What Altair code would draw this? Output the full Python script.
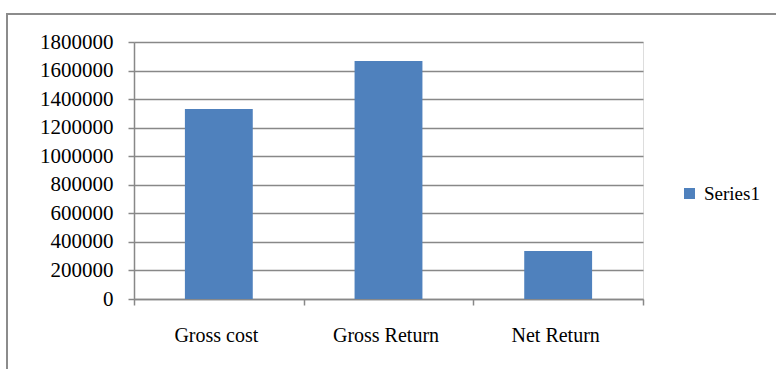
import altair as alt
import pandas as pd

categories = ["Gross cost", "Gross Return", "Net Return"]
values = [1330000, 1667000, 337000]
series_name = ["Series1", "Series1", "Series1"]
y_ticks = [0, 200000, 400000, 600000, 800000, 1000000, 1200000, 1400000, 1600000, 1800000]

df = pd.DataFrame({"category": categories, "value": values, "series": series_name})

FONT = "'Times New Roman', 'Liberation Serif', serif"
GRID = "#888888"

bars = alt.Chart(df).mark_bar(color="#4F81BD", width=alt.RelativeBandSize(0.4)).encode(
    x=alt.X(
        "category:N",
        sort=categories,
        scale=alt.Scale(paddingInner=0, paddingOuter=0),
        axis=alt.Axis(
            title=None,
            labelAngle=0,
            labelFont=FONT,
            labelFontSize=20,
            labelColor="black",
            labelPadding=20,
            labelOffset=-3,
            ticks=True,
            tickBand="extent",
            tickExtra=True,
            tickSize=6,
            tickColor=GRID,
            tickWidth=1.5,
            domainColor=GRID,
            domainWidth=1.5,
            grid=False,
        ),
    ),
    y=alt.Y(
        "value:Q",
        scale=alt.Scale(domain=[0, 1800000], nice=False),
        axis=alt.Axis(
            title=None,
            values=y_ticks,
            format="d",
            labelFont=FONT,
            labelFontSize=21,
            labelColor="black",
            labelPadding=15,
            tickSize=6,
            tickColor=GRID,
            tickWidth=1.5,
            domainColor=GRID,
            domainWidth=1.5,
            grid=True,
            gridColor=GRID,
            gridWidth=1.5,
        ),
    ),
    color=alt.Color(
        "series:N",
        scale=alt.Scale(range=["#4F81BD"]),
        legend=alt.Legend(
            title=None,
            orient="none",
            legendX=546,
            legendY=142,
            symbolType="square",
            symbolSize=121,
            symbolStrokeWidth=0,
            labelFont=FONT,
            labelFontSize=19,
            labelColor="black",
            labelOffset=5,
        ),
    ),
)

border = alt.Chart(pd.DataFrame({"k": [0]})).mark_rect(
    fill=None, stroke="#8c8c8c", strokeWidth=2
).encode(
    x=alt.value(-127),
    y=alt.value(-28),
    x2=alt.value(760),
    y2=alt.value(400),
)

chart = alt.layer(border, bars).properties(
    width=509,
    height=257,
    padding={"left": 134, "top": 42, "right": 133, "bottom": 70},
    autosize=alt.AutoSizeParams(type="none"),
).configure_view(stroke=None).configure(background="white")

chart.save("out.html", embed_options={"renderer": "svg", "actions": False})
